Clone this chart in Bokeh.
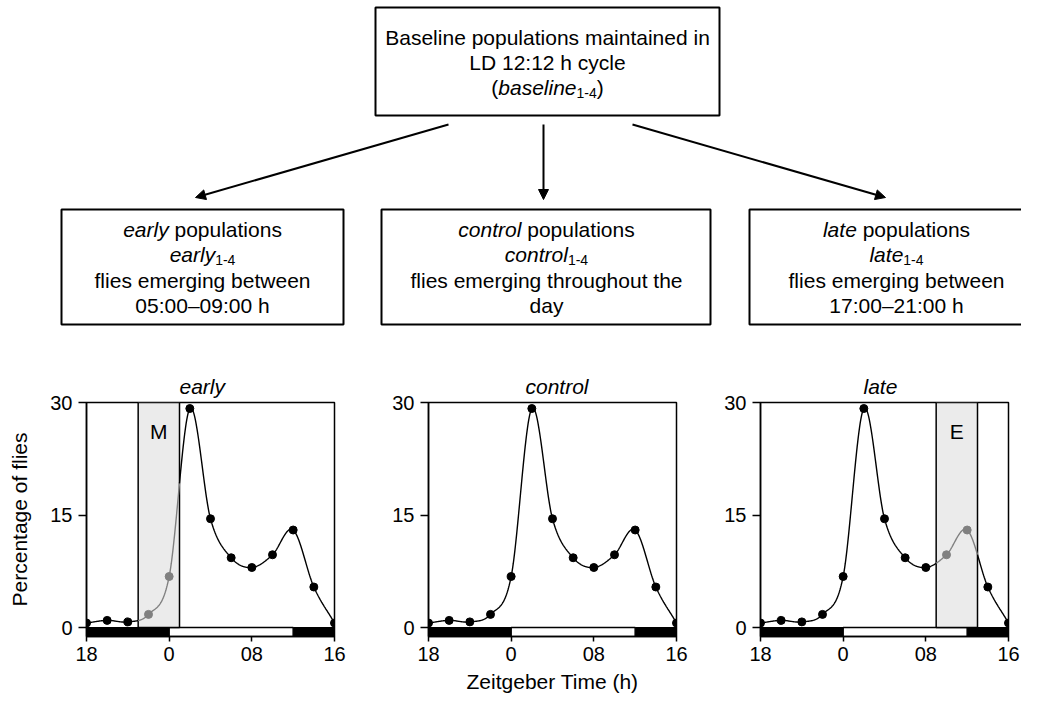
import numpy as np
from bokeh.plotting import figure
from bokeh.models import Range1d, ColumnDataSource, Arrow, NormalHead, FixedTicker
from bokeh.layouts import column, row
from bokeh.embed import file_html
from bokeh.resources import INLINE
from bokeh.core.properties import value

FONT = "Liberation Sans"

# ---------------- data ----------------
zt_hours = [-8, -6, -4, -2, 0, 2, 4, 6, 8, 10, 12, 14, 16]
pct_flies = [0.6, 0.95, 0.75, 1.75, 6.8, 29.2, 14.5, 9.3, 8.0, 9.7, 13.0, 5.4, 0.6]

panel_names = ["early", "control", "late"]
window_start = {"early": -3, "late": 9}
window_end = {"early": 1, "late": 13}
window_label = {"early": "M", "late": "E"}

x_ticks = [-8, 0, 8, 16]
x_tick_labels = ["18", "0", "08", "16"]
y_ticks = [0, 15, 30]
dark_left = [-8, 12]
dark_right = [0, 16]
light_left = [0]
light_right = [12]

top_lines = [
    [("Baseline populations maintained in", "n")],
    [("LD 12:12 h cycle", "n")],
    [("(", "n"), ("baseline", "i"), ("1-4", "s"), (")", "n")],
]
box_lines = {
    "early": [[("early", "i"), (" populations", "n")],
              [("early", "i"), ("1-4", "s")],
              [("flies emerging between", "n")],
              [("05:00\u201309:00 h", "n")]],
    "control": [[("control", "i"), (" populations", "n")],
                [("control", "i"), ("1-4", "s")],
                [("flies emerging throughout the", "n")],
                [("day", "n")]],
    "late": [[("late", "i"), (" populations", "n")],
             [("late", "i"), ("1-4", "s")],
             [("flies emerging between", "n")],
             [("17:00\u201321:00 h", "n")]],
}

# ---------------- helpers ----------------
W = {' ': 278, '(': 333, ')': 333, '-': 333, ':': 278, '\u2013': 556,
     'B': 667, 'D': 722, 'L': 556,
     'a': 556, 'b': 556, 'c': 500, 'd': 556, 'e': 556, 'f': 278, 'g': 556,
     'h': 556, 'i': 222, 'j': 222, 'k': 500, 'l': 222, 'm': 833, 'n': 556,
     'o': 556, 'p': 556, 'q': 556, 'r': 333, 's': 500, 't': 278, 'u': 556,
     'v': 500, 'w': 722, 'x': 500, 'y': 500, 'z': 500}
for d in "0123456789":
    W[d] = 556

FS_MAIN = 21
FS_SUB = 14


def text_width(s, fs):
    return sum(W.get(ch, 556) for ch in s) / 1000.0 * fs


def hermite_curve(xs, ys, n=40):
    xs = np.asarray(xs, float)
    ys = np.asarray(ys, float)
    m = np.gradient(ys, xs)
    cx, cy = [], []
    for i in range(len(xs) - 1):
        h = xs[i + 1] - xs[i]
        t = np.linspace(0, 1, n, endpoint=False)
        h00 = 2 * t**3 - 3 * t**2 + 1
        h10 = t**3 - 2 * t**2 + t
        h01 = -2 * t**3 + 3 * t**2
        h11 = t**3 - t**2
        cx.append(xs[i] + t * h)
        cy.append(h00 * ys[i] + h10 * h * m[i] + h01 * ys[i + 1] + h11 * h * m[i + 1])
    cx.append([xs[-1]])
    cy.append([ys[-1]])
    return np.concatenate(cx), np.concatenate(cy)


# ---------------- flowchart figure ----------------
TOP_H = 360
TOTAL_W = 1021
top = figure(width=TOTAL_W, height=TOP_H, x_range=Range1d(0, TOTAL_W), y_range=Range1d(TOP_H, 0),
             x_axis_type=None, y_axis_type=None, min_border=0, toolbar_location=None,
             output_backend="svg")
top.grid.visible = False
top.outline_line_color = None

box_left = [375, 61, 381, 749]
box_right = [719, 343, 710, 1043]
box_top = [7, 209, 209, 209]
box_bottom = [115, 324, 324, 324]
top.quad(left=box_left, right=box_right, top=box_top, bottom=box_bottom,
         fill_color="white", line_color="black", line_width=2)

seg = {"n": dict(x=[], y=[], text=[]), "i": dict(x=[], y=[], text=[]), "s": dict(x=[], y=[], text=[])}


def place_lines(lines, cx, ys):
    for line, yc in zip(lines, ys):
        widths = [text_width(t, FS_SUB if st == "s" else FS_MAIN) for t, st in line]
        x0 = cx - sum(widths) / 2.0
        for (t, st), w in zip(line, widths):
            fs = FS_SUB if st == "s" else FS_MAIN
            lead = len(t) - len(t.lstrip(" "))
            seg[st]["x"].append(x0 + text_width(" " * lead, fs))
            seg[st]["y"].append(yc + (5 if st == "s" else 0))
            seg[st]["text"].append(t.lstrip(" "))
            x0 += w


place_lines(top_lines, 547, [37, 62, 87])
for name, cx in zip(panel_names, [202, 546, 896]):
    place_lines(box_lines[name], cx, [229, 254, 280, 305])

top.text(x="x", y="y", text="text", source=ColumnDataSource(seg["n"]), text_align="left",
         text_baseline="middle", text_font=value(FONT), text_font_size="%dpx" % FS_MAIN, text_color="black")
top.text(x="x", y="y", text="text", source=ColumnDataSource(seg["i"]), text_align="left",
         text_baseline="middle", text_font=value(FONT), text_font_style="italic",
         text_font_size="%dpx" % FS_MAIN, text_color="black")
top.text(x="x", y="y", text="text", source=ColumnDataSource(seg["s"]), text_align="left",
         text_baseline="middle", text_font=value(FONT), text_font_size="%dpx" % FS_SUB, text_color="black")

arrow_x0 = [448, 543, 632]
arrow_y0 = [124, 124, 124]
arrow_x1 = [195, 543, 885]
arrow_y1 = [197, 199, 197]
for xa, ya, xb, yb in zip(arrow_x0, arrow_y0, arrow_x1, arrow_y1):
    top.add_layout(Arrow(end=NormalHead(size=10, fill_color="black", line_color="black", line_width=1),
                         x_start=xa, y_start=ya, x_end=xb, y_end=yb, line_width=2, line_color="black"))

# ---------------- panels ----------------
BAR_BOTTOM = -1.2
PANEL_H = 701 - TOP_H
cx, cy = hermite_curve(zt_hours, pct_flies)

panel_specs = {
    "early": dict(width=381, left=86, right=47, title_offset=93),
    "control": dict(width=339, left=47, right=44, title_offset=97),
    "late": dict(width=301, left=40, right=13, title_offset=103),
}

panels = []
for name in panel_names:
    sp = panel_specs[name]
    p = figure(width=sp["width"], height=PANEL_H, min_border_left=sp["left"], min_border_right=sp["right"],
               min_border_top=42, min_border_bottom=65,
               x_range=Range1d(-8, 16), y_range=Range1d(BAR_BOTTOM, 30),
               toolbar_location=None, output_backend="svg", title=name)
    p.title.text_font = FONT
    p.title.text_font_style = "italic"
    p.title.text_font_size = "21px"
    p.title.text_color = "black"
    p.title.align = "left"
    p.title.offset = sp["title_offset"]
    p.title.standoff = 10
    p.grid.visible = False
    p.outline_line_color = "black"
    p.outline_line_width = 1.5

    for ax in (p.xaxis[0], p.yaxis[0]):
        ax.axis_line_color = "black"
        ax.axis_line_width = 1.5
        ax.major_tick_line_color = "black"
        ax.major_tick_line_width = 1.5
        ax.major_tick_in = 0
        ax.minor_tick_in = 0
        ax.minor_tick_out = 0
        ax.major_label_text_font = FONT
        ax.major_label_text_font_size = "20px"
        ax.major_label_text_color = "black"
        ax.axis_label_text_font = FONT
        ax.axis_label_text_font_size = "21px"
        ax.axis_label_text_font_style = "normal"
        ax.axis_label_text_color = "black"

    p.yaxis.ticker = FixedTicker(ticks=y_ticks)
    p.yaxis.major_tick_out = 8
    p.yaxis.major_label_standoff = 6
    p.xaxis.ticker = FixedTicker(ticks=x_ticks)
    p.xaxis.major_label_overrides = {t: lab for t, lab in zip(x_ticks, x_tick_labels)}
    p.xaxis.major_tick_out = 5
    p.xaxis.major_label_standoff = 5
    if name == "early":
        p.yaxis.axis_label = "Percentage of flies"
        p.yaxis.axis_label_standoff = 16
    if name == "control":
        p.xaxis.axis_label = "Zeitgeber Time (h)"
        p.xaxis.axis_label_standoff = 6

    # light/dark bar
    p.quad(left=dark_left, right=dark_right, bottom=BAR_BOTTOM, top=0,
           fill_color="black", line_color="black", line_width=1)
    p.quad(left=light_left, right=light_right, bottom=BAR_BOTTOM, top=0,
           fill_color="white", line_color="black", line_width=1.5)

    xs = np.asarray(zt_hours, float)
    ys = np.asarray(pct_flies, float)
    if name in window_start:
        w0, w1 = window_start[name], window_end[name]
        p.quad(left=[w0], right=[w1], bottom=[0], top=[30],
               fill_color="#ebebeb", line_color="black", line_width=1.5)
        p.text(x=[(w0 + w1) / 2.0], y=[26.2], text=[window_label[name]], text_align="center",
               text_baseline="middle", text_font=value(FONT), text_font_size="21px", text_color="black")
        i0 = int(np.searchsorted(cx, w0))
        i1 = int(np.searchsorted(cx, w1))
        p.line(cx[:i0 + 1], cy[:i0 + 1], line_color="black", line_width=1.4)
        p.line(cx[i0:i1 + 1], cy[i0:i1 + 1], line_color="#808080", line_width=1.4)
        p.line(cx[i1:], cy[i1:], line_color="black", line_width=1.4)
        inside = (xs > w0) & (xs < w1)
        p.scatter(xs[~inside], ys[~inside], size=8, color="black")
        p.scatter(xs[inside], ys[inside], size=8, color="#808080")
    else:
        p.line(cx, cy, line_color="black", line_width=1.4)
        p.scatter(xs, ys, size=8, color="black")
    panels.append(p)

layout = column(top, row(*panels))
open("out.html", "w").write(file_html(layout, INLINE))
